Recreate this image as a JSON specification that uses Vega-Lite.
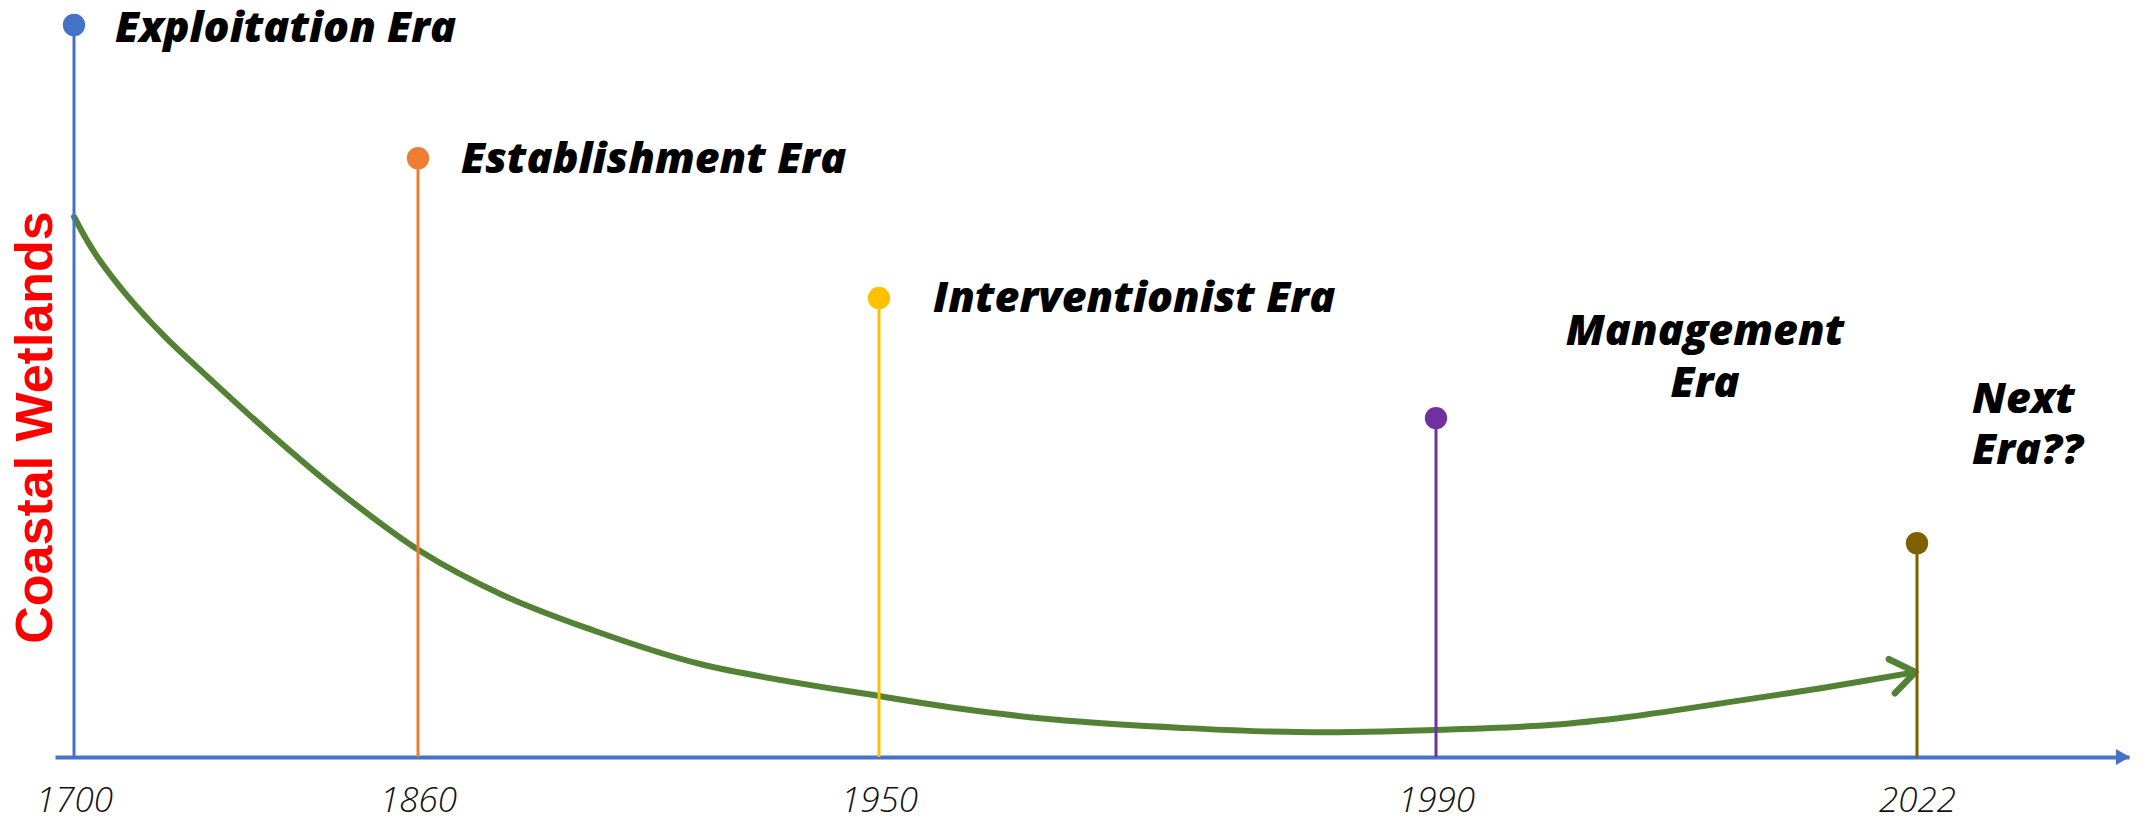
{
  "$schema": "https://vega.github.io/schema/vega-lite/v6.json",
  "width": 2150,
  "height": 757,
  "autosize": {"type": "none"},
  "padding": {"left": 0, "top": 0, "right": 0, "bottom": 63},
  "background": "white",
  "config": {"view": {"stroke": null}},
  "datasets": {
    "eras": [
      {"year": 1700, "level": 100, "era": "Exploitation Era"},
      {"year": 1860, "level": 81.8, "era": "Establishment Era"},
      {"year": 1950, "level": 62.7, "era": "Interventionist Era"},
      {"year": 1990, "level": 46.3, "era": "Management Era"},
      {"year": 2022, "level": 29.2, "era": "Next Era??"}
    ],
    "curve": [
      {"year": 1700, "level": 73.8},
      {"year": 1706, "level": 70.6},
      {"year": 1711.6, "level": 68.0},
      {"year": 1725.1, "level": 62.9},
      {"year": 1742, "level": 57.5},
      {"year": 1762.3, "level": 51.9},
      {"year": 1791.6, "level": 44.1},
      {"year": 1821.4, "level": 36.7},
      {"year": 1860.5, "level": 28.1},
      {"year": 1876.6, "level": 22.1},
      {"year": 1893.0, "level": 17.6},
      {"year": 1915.1, "level": 12.7},
      {"year": 1950.4, "level": 8.2},
      {"year": 1957.8, "level": 6.1},
      {"year": 1964.6, "level": 4.8},
      {"year": 1971.5, "level": 4.0},
      {"year": 1980.1, "level": 3.4},
      {"year": 1990, "level": 3.7},
      {"year": 1997.8, "level": 4.4},
      {"year": 2002.9, "level": 5.5},
      {"year": 2010.5, "level": 7.8},
      {"year": 2015.6, "level": 9.4},
      {"year": 2021.9, "level": 11.6}
    ],
    "arrowtip": [
      {"year": 2021.9, "level": 11.6}
    ],
    "axisarrow": [
      {"year": 2035.6, "level": 0}
    ]
  },
  "encoding": {
    "x": {
      "field": "year",
      "type": "quantitative",
      "scale": {
        "domain": [1691, 1700, 1860, 1950, 1990, 2022, 2036],
        "range": [55, 74, 418, 879, 1436, 1917, 2129],
        "nice": false,
        "zero": false,
        "clamp": false
      },
      "axis": {
        "values": [1700, 1860, 1950, 1990, 2022],
        "format": "d",
        "title": null,
        "grid": false,
        "ticks": false,
        "tickSize": 0,
        "domain": true,
        "domainColor": "#4472C4",
        "domainWidth": 4,
        "labelFont": "Open Sans",
        "labelFontStyle": "italic",
        "labelFontWeight": 300,
        "labelFontSize": 35,
        "labelColor": "#111111",
        "labelPadding": 43,
        "labelBaseline": "middle",
        "labelFlush": false,
        "labelOverlap": false
      }
    },
    "y": {
      "field": "level",
      "type": "quantitative",
      "scale": {"domain": [0, 100], "range": [757, 25], "nice": false, "zero": true},
      "axis": {
        "title": "Coastal Wetlands",
        "titleColor": "#FF0000",
        "titleFont": "Liberation Sans",
        "titleFontSize": 52,
        "titleFontWeight": "bold",
        "titleAngle": 270,
        "titleX": 35,
        "titleY": 427,
        "titleAlign": "center",
        "titleBaseline": "middle",
        "labels": false,
        "ticks": false,
        "domain": false,
        "grid": false
      }
    }
  },
  "layer": [
    {
      "data": {"name": "curve"},
      "mark": {"type": "line", "color": "#548235", "strokeWidth": 6, "interpolate": "catmull-rom", "strokeCap": "round"}
    },
    {
      "data": {"name": "arrowtip"},
      "mark": {"type": "point", "shape": "M-1,-0.72L0,0L-1,0.72", "filled": false, "stroke": "#548235", "strokeWidth": 6.5, "strokeCap": "round", "strokeJoin": "round", "size": 2300, "angle": -10, "opacity": 1}
    },
    {
      "data": {"name": "axisarrow"},
      "mark": {"type": "point", "shape": "triangle-right", "filled": true, "color": "#4472C4", "size": 260, "opacity": 1}
    },
    {
      "data": {"name": "eras"},
      "mark": {"type": "rule", "strokeWidth": 3},
      "encoding": {
        "y2": {"datum": 0},
        "color": {
          "field": "era",
          "type": "nominal",
          "legend": null,
          "scale": {
            "domain": ["Exploitation Era", "Establishment Era", "Interventionist Era", "Management Era", "Next Era??"],
            "range": ["#4472C4", "#ED7D31", "#FFC000", "#7030A0", "#7F6000"]
          }
        }
      }
    },
    {
      "data": {"name": "eras"},
      "mark": {"type": "point", "filled": true, "size": 500, "opacity": 1},
      "encoding": {
        "color": {"field": "era", "type": "nominal", "legend": null}
      }
    },
    {
      "data": {"name": "eras"},
      "transform": [{"filter": "datum.year == 1700"}],
      "mark": {"type": "text", "align": "left", "baseline": "middle", "dx": 41, "dy": 4, "font": "Open Sans", "fontStyle": "italic", "fontWeight": 800, "fontSize": 43, "color": "#000000"},
      "encoding": {"text": {"field": "era", "type": "nominal"}}
    },
    {
      "data": {"name": "eras"},
      "transform": [{"filter": "datum.year == 1860"}],
      "mark": {"type": "text", "align": "left", "baseline": "middle", "dx": 43, "dy": 2, "font": "Open Sans", "fontStyle": "italic", "fontWeight": 800, "fontSize": 43, "color": "#000000"},
      "encoding": {"text": {"field": "era", "type": "nominal"}}
    },
    {
      "data": {"name": "eras"},
      "transform": [{"filter": "datum.year == 1950"}],
      "mark": {"type": "text", "align": "left", "baseline": "middle", "dx": 54, "dy": 1, "font": "Open Sans", "fontStyle": "italic", "fontWeight": 800, "fontSize": 43, "color": "#000000"},
      "encoding": {"text": {"field": "era", "type": "nominal"}}
    },
    {
      "data": {"name": "eras"},
      "transform": [{"filter": "datum.year == 1990"}],
      "mark": {"type": "text", "align": "center", "baseline": "middle", "dx": 269, "dy": -86, "lineBreak": " ", "lineHeight": 52, "font": "Open Sans", "fontStyle": "italic", "fontWeight": 800, "fontSize": 43, "color": "#000000"},
      "encoding": {"text": {"field": "era", "type": "nominal"}}
    },
    {
      "data": {"name": "eras"},
      "transform": [{"filter": "datum.year == 2022"}],
      "mark": {"type": "text", "align": "left", "baseline": "middle", "dx": 55, "dy": -143, "lineBreak": " ", "lineHeight": 51, "font": "Open Sans", "fontStyle": "italic", "fontWeight": 800, "fontSize": 43, "color": "#000000"},
      "encoding": {"text": {"field": "era", "type": "nominal"}}
    }
  ]
}
